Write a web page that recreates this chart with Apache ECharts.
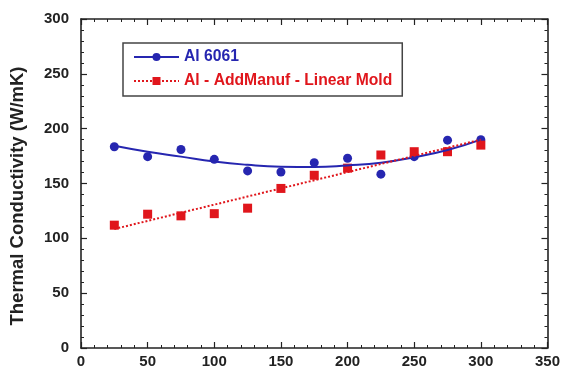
<!DOCTYPE html>
<html>
<head>
<meta charset="utf-8">
<script src="https://cdn.jsdelivr.net/npm/echarts@6/dist/echarts.min.js"></script>
<style>
html, body {margin:0; padding:0; background:#fff;}
#main {width:563px; height:374px;}
</style>
</head>
<body>
<div id="main"></div>
<script type="text/javascript">
// measured points
var temps = [25, 50, 75, 100, 125, 150, 175, 200, 225, 250, 275, 300];
var al6061 = [183.5, 174.5, 181, 172, 161.5, 160.5, 169, 173, 158.5, 174.5, 189.5, 190];
var alAddManuf = [112, 122, 120.5, 122.5, 127.5, 145.5, 157.5, 164, 176, 179, 179, 185];

// fit curves
var fitX = [25, 50, 75, 100, 125, 150, 175, 200, 225, 250, 275, 300];
var fit6061 = [184.5, 179, 174.5, 170, 167, 165.3, 165, 166.5, 169, 174, 180.5, 190];
var fitLinX = [25, 300];
var fitLin = [108.5, 190];

var xTicks = [0, 50, 100, 150, 200, 250, 300, 350];
var yTicks = [0, 50, 100, 150, 200, 250, 300];

var blue = '#2626b0';
var red = '#e0161c';
var font = 'Liberation Sans, Arial, Helvetica, sans-serif';

function pairs(xs, ys) {
	var out = [];
	for (var i = 0; i < xs.length; i++) out.push([xs[i], ys[i]]);
	return out;
}

var dom = document.getElementById('main');
var myChart = echarts.init(dom, null, {renderer: 'canvas'});

var tickStyle = {show: true, inside: true, length: 6, lineStyle: {color: '#222', width: 1.2}};
var minorStyle = {show: true, splitNumber: 5, length: 3, lineStyle: {color: '#222', width: 1}};
var lineStyle = {show: true, onZero: false, lineStyle: {color: '#222', width: 1.6}};

var option = {
	animation: false,
	grid: {left: 81, right: 13, top: 19, bottom: 26},
	graphic: [{
		type: 'text',
		x: 18, y: 196,
		rotation: Math.PI / 2,
		style: {
			text: 'Thermal Conductivity (W/mK)',
			font: 'bold 18.5px ' + font,
			fill: '#222',
			align: 'center',
			verticalAlign: 'middle'
		}
	}],
	legend: {
		orient: 'vertical',
		left: 123, top: 43,
		padding: [5, 10, 6, 10],
		itemGap: 6,
		itemWidth: 45,
		itemHeight: 10,
		borderColor: '#444',
		borderWidth: 1.5,
		data: [
			{name: 'Al 6061', textStyle: {color: blue}},
			{name: 'Al - AddManuf - Linear Mold', textStyle: {color: red}}
		],
		textStyle: {fontFamily: font, fontWeight: 'bold', fontSize: 15.7, lineHeight: 18}
	},
	xAxis: [{
		type: 'value', min: 0, max: 350, interval: 50,
		axisLine: lineStyle,
		axisTick: tickStyle,
		minorTick: minorStyle,
		splitLine: {show: false},
		axisLabel: {
			margin: 6, color: '#222', fontFamily: font, fontWeight: 'bold', fontSize: 15,
			formatter: function (v) { return xTicks.indexOf(v) >= 0 ? String(v) : ''; }
		}
	}, {
		type: 'value', position: 'top', min: 0, max: 350, interval: 50,
		axisLine: lineStyle, axisTick: tickStyle, minorTick: minorStyle,
		splitLine: {show: false}, axisLabel: {show: false}
	}],
	yAxis: [{
		type: 'value', min: 0, max: 300, interval: 50,
		axisLine: lineStyle,
		axisTick: tickStyle,
		minorTick: minorStyle,
		splitLine: {show: false},
		axisLabel: {
			margin: 12, color: '#222', fontFamily: font, fontWeight: 'bold', fontSize: 15,
			formatter: function (v) { return yTicks.indexOf(v) >= 0 ? String(v) : ''; }
		}
	}, {
		type: 'value', position: 'right', min: 0, max: 300, interval: 50,
		axisLine: lineStyle, axisTick: tickStyle, minorTick: minorStyle,
		splitLine: {show: false}, axisLabel: {show: false}
	}],
	series: [
		{
			name: 'Al 6061',
			type: 'line',
			smooth: true,
			symbol: 'circle',
			showSymbol: false,
			data: pairs(fitX, fit6061),
			itemStyle: {color: blue},
			lineStyle: {color: blue, width: 2}
		},
		{
			name: 'Al - AddManuf - Linear Mold',
			type: 'line',
			symbol: 'rect',
			showSymbol: false,
			data: pairs(fitLinX, fitLin),
			itemStyle: {color: red},
			lineStyle: {color: red, width: 2, type: [2, 2]}
		},
		{
			name: 'Al 6061 pts',
			type: 'scatter',
			symbol: 'circle',
			symbolSize: 9,
			data: pairs(temps, al6061),
			itemStyle: {color: blue, opacity: 1}
		},
		{
			name: 'AddManuf pts',
			type: 'scatter',
			symbol: 'rect',
			symbolSize: 9,
			data: pairs(temps, alAddManuf),
			itemStyle: {color: red, opacity: 1}
		}
	]
};

if (option && typeof option === 'object') {
	myChart.setOption(option, true);
}
</script>
</body>
</html>
